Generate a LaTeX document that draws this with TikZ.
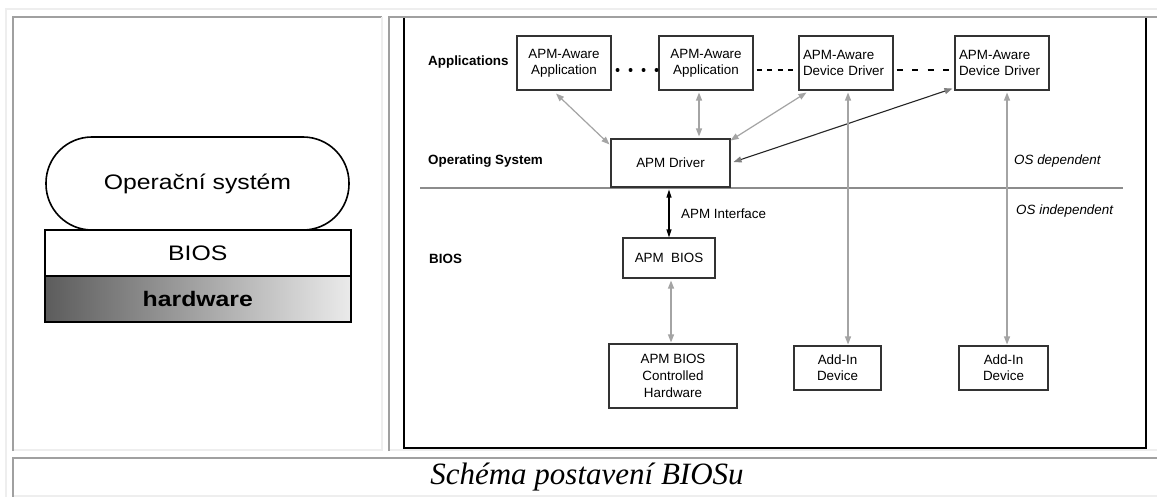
\documentclass[tikz,border=0pt]{standalone}
\usepackage{fontspec}
\setmainfont{Liberation Sans}
\newfontfamily\capfont{Liberation Serif}
\newfontfamily\scanfont[FakeStretch=1.18]{Liberation Sans}
\usetikzlibrary{arrows.meta,calc}
\definecolor{celldark}{HTML}{A0A0A0}
\definecolor{celllight}{HTML}{EEEEEE}
\definecolor{arrowgray}{HTML}{A4A4A4}
\definecolor{sepgray}{HTML}{8C8C8C}
\newcommand{\diagfont}{\fontsize{13.4}{16}\selectfont}
\tikzset{
  cellshade/.style={line width=2pt, draw=celldark},
  celledge/.style={line width=2pt, draw=celllight},
  apmbox/.style={draw=black!80, line width=1.1pt, fill=white, inner sep=0pt,
                 font=\diagfont, align=center},
  leftbox/.style={apmbox, align=left, text width=86pt, inner xsep=4pt},
  layerlabel/.style={font=\diagfont\bfseries, anchor=west, inner sep=0pt},
  sidelabel/.style={font=\diagfont\itshape, anchor=west, inner sep=0pt},
  garrow/.style={draw=arrowgray, line width=1.2pt, {Triangle[length=8pt, width=6pt]}-{Triangle[length=8pt, width=6pt]}},
  barrow/.style={draw=black, line width=1.2pt, {Triangle[length=8pt, width=5pt]}-{Triangle[length=8pt, width=5pt]}},
  darrow/.style={draw=black!85, line width=1.1pt, {Triangle[length=8pt, width=6pt, color=gray]}-{Triangle[length=8pt, width=6pt, color=gray]}},
  dotline/.style={draw=black, line width=4pt, line cap=round, dash pattern=on 0pt off 13pt},
  dashline/.style={draw=black, line width=2.2pt, dash pattern=on 5pt off 5.5pt},
  dashwide/.style={draw=black, line width=2.2pt, dash pattern=on 6pt off 9.5pt},
  stack/.style={draw=black, line width=1.6pt, inner sep=0pt, font=\scanfont\fontsize{21}{24}\selectfont},
}
\begin{document}
\begin{tikzpicture}[x=1pt, y=-1pt]
\useasboundingbox (0,0) rectangle (1157,497);
\fill[white] (0,0) rectangle (1157,497);

% ---------- table frame ----------
\draw[celledge] (6,497) -- (6,9) -- (1157,9);
% left cell
\draw[cellshade] (13,451) -- (13,17) -- (382,17);
\draw[celledge] (382,17) -- (382,450) -- (14,450);
% right cell
\draw[cellshade] (389,451) -- (389,17) -- (1157,17);
\draw[celledge] (390,450) -- (1157,450);
% caption cell
\draw[cellshade] (13,497) -- (13,458) -- (1157,458);
\draw[celledge] (14,496) -- (1157,496);

% ---------- left: layer stack ----------
\node[stack, minimum width=306pt, minimum height=46pt, anchor=north west,
      shading=axis, left color=black!64, middle color=black!28, right color=black!8] (hw) at (44,275) {\bfseries hardware};
\node[stack, minimum width=306pt, minimum height=46pt, anchor=north west, fill=white] (bios) at (44,229) {BIOS};
\node[stack, rounded corners=46pt, minimum width=303pt, minimum height=93pt, fill=white] (os) at (197.5,183.5) {Operační systém};

% ---------- right: APM architecture ----------
\draw[black, line width=1.5pt] (404,17) rectangle (1146,448);
\draw[cellshade] (389,17) -- (1157,17);

\coordinate (sepL) at (420,188);
\coordinate (sepR) at (1123,188);
\draw[sepgray, line width=2pt] (sepL) -- (sepR);

\node[layerlabel] (lapp) at (428,62) {Applications};
\node[layerlabel] (los) at (428,161) {Operating System};
\node[layerlabel] (lbios) at (429,259) {BIOS};
\node[sidelabel] (ldep) at (1014,161) {OS dependent};
\node[sidelabel] (lindep) at (1016,211) {OS independent};

\node[apmbox, minimum width=94pt, minimum height=54pt] (app1) at (564,63) {APM-Aware\\Application};
\node[apmbox, minimum width=94pt, minimum height=54pt] (app2) at (706,63) {APM-Aware\\Application};
\node[leftbox, minimum height=54pt] (app3) at (846,63) {APM-Aware\\Device Driver};
\node[leftbox, minimum height=54pt] (app4) at (1002,63) {APM-Aware\\Device Driver};

\node[apmbox, minimum width=119pt, minimum height=48pt] (drv) at (670.5,163) {APM Driver};
\node[apmbox, minimum width=92pt, minimum height=40pt] (abios) at (669,258) {APM\ \ BIOS};
\node[apmbox, minimum width=128pt, minimum height=64pt, font=\fontsize{13.4}{17}\selectfont] (hwc) at (673,376) {APM BIOS\\Controlled\\Hardware};
\node[apmbox, minimum width=87pt, minimum height=44pt] (add1) at (837.5,368) {Add-In\\Device};
\node[apmbox, minimum width=89pt, minimum height=44pt] (add2) at (1003.5,368) {Add-In\\Device};

% links between the application boxes
\draw[dotline] ([xshift=6pt, yshift=-7pt]app1.east) -- ([yshift=-7pt]app2.west);
\draw[dashline] ([xshift=3pt, yshift=-7pt]app2.east) -- ([yshift=-7pt]app3.west);
\draw[dashwide] ([xshift=3pt, yshift=-7pt]app3.east) -- ([yshift=-7pt]app4.west);

% application <-> driver
\draw[garrow] ($(app1.south)+(-8,3)$) -- ($(drv.north west)+(-1,6)$);
\coordinate (c2) at (699,0);
\draw[garrow] ($(app2.south -| c2)+(0,2)$) -- ($(drv.north -| c2)+(0,-2)$);
\draw[garrow] ($(app3.south west)+(8,2)$) -- ($(drv.north east)+(0,2)$);
\draw[darrow] ($(drv.east)+(3,-1)$) -- ($(app4.south west)+(-2,-2)$);

% driver <-> APM BIOS
\coordinate (cI) at (669,0);
\draw[barrow] ($(drv.south -| cI)+(0,2)$) -- (abios.north -| cI);
\node[font=\diagfont, anchor=west, inner sep=0pt] (lint) at (681,214) {APM Interface};

% BIOS <-> hardware
\coordinate (cB) at (671,0);
\draw[garrow] ($(abios.south -| cB)+(0,2)$) -- ($(hwc.north -| cB)+(0,-1)$);

% device drivers <-> add-in devices
\coordinate (v1) at (848,0);
\coordinate (v2) at (1007,0);
\draw[garrow] ($(app3.south -| v1)+(0,2)$) -- ($(add1.north -| v1)+(0,-1)$);
\draw[garrow] ($(app4.south -| v2)+(0,2)$) -- ($(add2.north -| v2)+(0,-1)$);

% ---------- caption ----------
\node[font=\capfont\itshape\fontsize{31}{34}\selectfont, inner sep=0pt] (cap) at (587,477) {Schéma postavení BIOSu};
\end{tikzpicture}
\end{document}
